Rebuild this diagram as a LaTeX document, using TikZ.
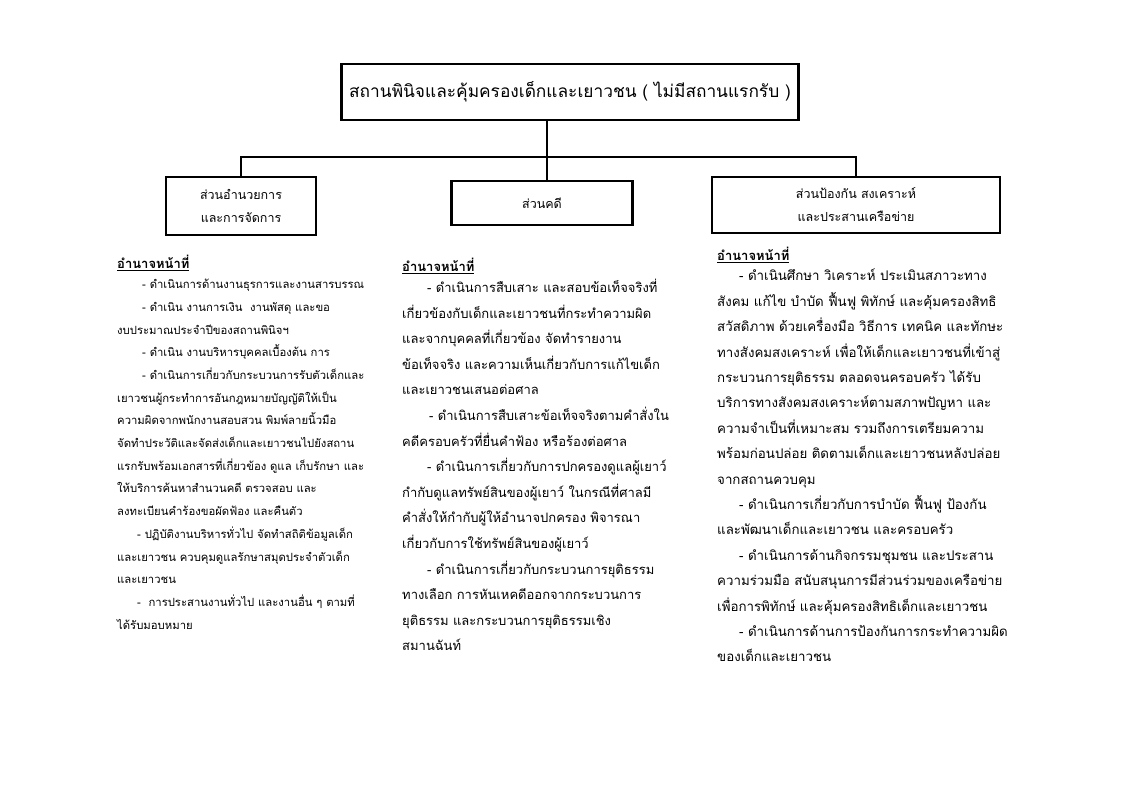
\documentclass[tikz,border=0pt]{standalone}
\usepackage{fontspec}
\setmainfont[Script=Thai]{Loma}
\begin{document}
\begin{tikzpicture}[x=1pt,y=-1pt,
  box/.style={draw,line width=2.5pt,inner sep=0pt,align=center},
  col/.style={anchor=north west,inner sep=0pt,align=left},
  head/.style={anchor=west,inner sep=0pt,font=\fontsize{13}{15}\selectfont\bfseries}]
\useasboundingbox (0,0) rectangle (1122,793);
\node[box,minimum width=457pt,minimum height=56pt,font=\fontsize{17.3}{22}\selectfont] (top) at (570,92) {สถานพินิจและคุ้มครองเด็กและเยาวชน ( ไม่มีสถานแรกรับ )};
\node[box,minimum width=150pt,minimum height=58pt,font=\fontsize{12.5}{23}\selectfont] (L) at (241,206) {ส่วนอำนวยการ\\และการจัดการ};
\node[box,minimum width=181pt,minimum height=44pt,font=\fontsize{12.5}{14}\selectfont] (M) at (542,203) {ส่วนคดี};
\node[box,minimum width=288pt,minimum height=56pt,font=\fontsize{12.5}{23}\selectfont] (R) at (856,205) {ส่วนป้องกัน สงเคราะห์\\และประสานเครือข่าย};
\coordinate (j) at (547,157);
\draw[line width=2.5pt] (top.south -| j) -- (M.north -| j);
\draw[line width=2.5pt] (L.north) |- (j) -| (R.north);
% headings
\node[head] (h1) at (117,263) {\underline{อำนาจหน้าที่}};
\node[head] (h2) at (402,266) {\underline{อำนาจหน้าที่}};
\node[head] (h3) at (717,255) {\underline{อำนาจหน้าที่}};
% left column
\node[col,font=\fontsize{11.3}{22.7}\selectfont] (c1) at (117,279) {%
\hspace*{25pt}- ดำเนินการด้านงานธุรการและงานสารบรรณ\\
\hspace*{25pt}- ดำเนิน งานการเงิน\ \ งานพัสดุ และขอ\\
งบประมาณประจำปีของสถานพินิจฯ\\
\hspace*{25pt}- ดำเนิน งานบริหารบุคคลเบื้องต้น การ\\
\hspace*{25pt}- ดำเนินการเกี่ยวกับกระบวนการรับตัวเด็กและ\\
เยาวชนผู้กระทำการอันกฎหมายบัญญัติให้เป็น\\
ความผิดจากพนักงานสอบสวน พิมพ์ลายนิ้วมือ\\
จัดทำประวัติและจัดส่งเด็กและเยาวชนไปยังสถาน\\
แรกรับพร้อมเอกสารที่เกี่ยวข้อง ดูแล เก็บรักษา และ\\
ให้บริการค้นหาสำนวนคดี ตรวจสอบ และ\\
ลงทะเบียนคำร้องขอผัดฟ้อง และคืนตัว\\
\hspace*{20pt}- ปฏิบัติงานบริหารทั่วไป จัดทำสถิติข้อมูลเด็ก\\
และเยาวชน ควบคุมดูแลรักษาสมุดประจำตัวเด็ก\\
และเยาวชน\\
\hspace*{20pt}-\ \ การประสานงานทั่วไป และงานอื่น ๆ ตามที่\\
ได้รับมอบหมาย};
% middle column
\node[col,font=\fontsize{13}{25.6}\selectfont] (c2) at (402,279) {%
\hspace*{25pt}- ดำเนินการสืบเสาะ และสอบข้อเท็จจริงที่\\
เกี่ยวข้องกับเด็กและเยาวชนที่กระทำความผิด\\
และจากบุคคลที่เกี่ยวข้อง จัดทำรายงาน\\
ข้อเท็จจริง และความเห็นเกี่ยวกับการแก้ไขเด็ก\\
และเยาวชนเสนอต่อศาล\\
\hspace*{27pt}- ดำเนินการสืบเสาะข้อเท็จจริงตามคำสั่งใน\\
คดีครอบครัวที่ยื่นคำฟ้อง หรือร้องต่อศาล\\
\hspace*{25pt}- ดำเนินการเกี่ยวกับการปกครองดูแลผู้เยาว์\\
กำกับดูแลทรัพย์สินของผู้เยาว์ ในกรณีที่ศาลมี\\
คำสั่งให้กำกับผู้ให้อำนาจปกครอง พิจารณา\\
เกี่ยวกับการใช้ทรัพย์สินของผู้เยาว์\\
\hspace*{25pt}- ดำเนินการเกี่ยวกับกระบวนการยุติธรรม\\
ทางเลือก การหันเหคดีออกจากกระบวนการ\\
ยุติธรรม และกระบวนการยุติธรรมเชิง\\
สมานฉันท์};
% right column
\node[col,font=\fontsize{13.3}{25.4}\selectfont] (c3) at (717,269) {%
\hspace*{22pt}- ดำเนินศึกษา วิเคราะห์ ประเมินสภาวะทาง\\
สังคม แก้ไข บำบัด ฟื้นฟู พิทักษ์ และคุ้มครองสิทธิ\\
สวัสดิภาพ ด้วยเครื่องมือ วิธีการ เทคนิค และทักษะ\\
ทางสังคมสงเคราะห์ เพื่อให้เด็กและเยาวชนที่เข้าสู่\\
กระบวนการยุติธรรม ตลอดจนครอบครัว ได้รับ\\
บริการทางสังคมสงเคราะห์ตามสภาพปัญหา และ\\
ความจำเป็นที่เหมาะสม รวมถึงการเตรียมความ\\
พร้อมก่อนปล่อย ติดตามเด็กและเยาวชนหลังปล่อย\\
จากสถานควบคุม\\
\hspace*{22pt}- ดำเนินการเกี่ยวกับการบำบัด ฟื้นฟู ป้องกัน\\
และพัฒนาเด็กและเยาวชน และครอบครัว\\
\hspace*{22pt}- ดำเนินการด้านกิจกรรมชุมชน และประสาน\\
ความร่วมมือ สนับสนุนการมีส่วนร่วมของเครือข่าย\\
เพื่อการพิทักษ์ และคุ้มครองสิทธิเด็กและเยาวชน\\
\hspace*{22pt}- ดำเนินการด้านการป้องกันการกระทำความผิด\\
ของเด็กและเยาวชน};
\end{tikzpicture}
\end{document}
